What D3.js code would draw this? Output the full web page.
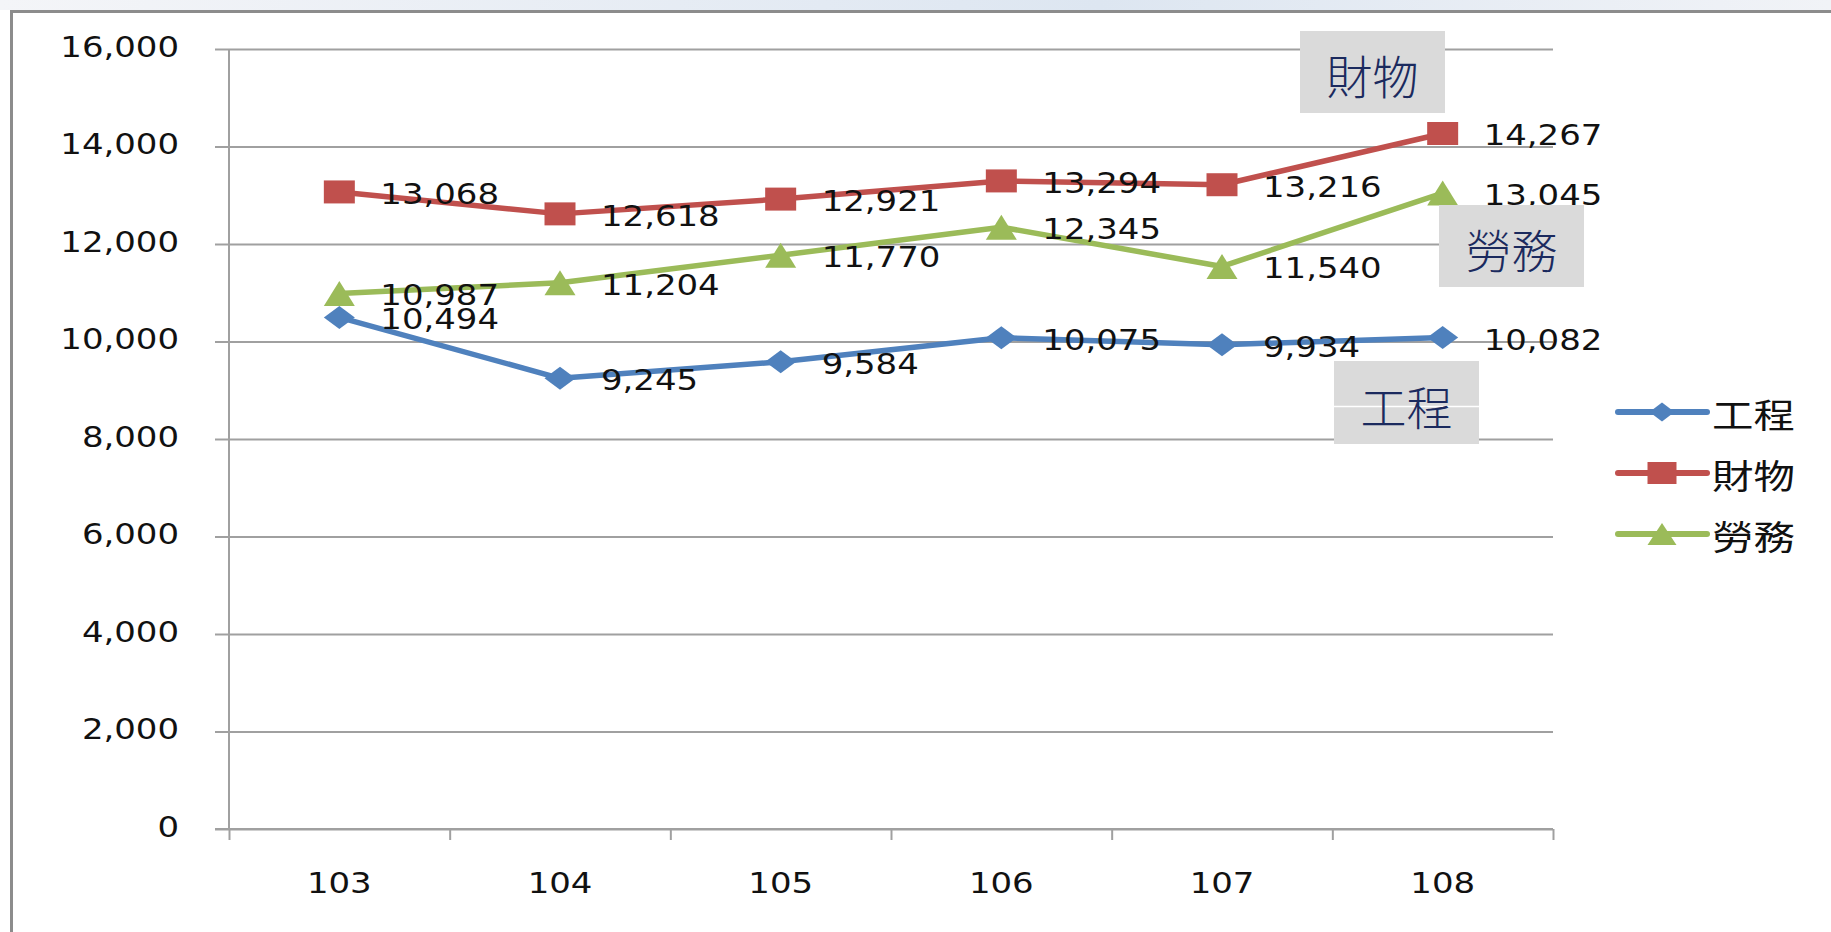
<!DOCTYPE html>
<html>
<head>
<meta charset="utf-8">
<script src="https://cdn.jsdelivr.net/npm/d3@7"></script>
<style>
  html, body { margin: 0; padding: 0; background: #fff; }
  svg { display: block; }
  .num { font-family: "DejaVu Sans", Verdana, sans-serif; font-size: 29px; fill: #111; }
  .cjk { font-family: "Noto Sans CJK TC", "Noto Sans CJK SC", sans-serif; }
</style>
</head>
<body>
<div id="chart"></div>
<script>
// data
var years = ["103", "104", "105", "106", "107", "108"];
var seriesNames = ["工程", "財物", "勞務"];
var gongcheng = [10494, 9245, 9584, 10075, 9934, 10082];
var caiwu = [13068, 12618, 12921, 13294, 13216, 14267];
var laowu = [10987, 11204, 11770, 12345, 11540, 13045];
var yTicks = [0, 2000, 4000, 6000, 8000, 10000, 12000, 14000, 16000];

var colors = ["#4F81BD", "#C0504D", "#9BBB59"];
var shapes = ["diamond", "square", "triangle"];

// set the dimensions and margins of the graph
var W = 1831, H = 932;
var margin = { top: 49, left: 229 },
    width = 1324,
    height = 780;

var svg = d3.select("#chart")
    .append("svg")
    .attr("width", W)
    .attr("height", H);

// slide background strip on top + frame
var grad = svg.append("defs").append("linearGradient").attr("id", "topg");
grad.append("stop").attr("offset", "0%").attr("stop-color", "#f4f5f8");
grad.append("stop").attr("offset", "45%").attr("stop-color", "#e3eaf3");
grad.append("stop").attr("offset", "60%").attr("stop-color", "#dde6f1");
grad.append("stop").attr("offset", "100%").attr("stop-color", "#f1f3f7");
svg.append("rect").attr("x", 0).attr("y", 0).attr("width", W).attr("height", 10).attr("fill", "url(#topg)");
svg.append("path")
    .attr("d", "M11.5," + H + " V11.5 H" + W)
    .attr("fill", "none")
    .attr("stroke", "#8c8c8c")
    .attr("stroke-width", 3);

var g = svg.append("g")
    .attr("transform", "translate(" + margin.left + "," + margin.top + ")");

// scales
var x = d3.scaleBand().domain(years).range([0, width]);
var xEdge = d3.scaleLinear().domain([0, years.length]).range([0, width]);
var y = d3.scaleLinear().domain([0, 16000]).range([height, 0]);

// grid lines
g.append("g")
    .call(d3.axisLeft(y).tickValues(yTicks).tickSize(-width).tickFormat(""))
    .call(function (s) { s.select(".domain").remove(); })
    .selectAll("line").attr("stroke", "#a0a0a0").attr("stroke-width", 2);

// Y axis
var yAxis = g.append("g")
    .call(d3.axisLeft(y).tickValues(yTicks).tickSize(14).tickFormat(d3.format(",")));
yAxis.select(".domain").attr("stroke", "#a0a0a0").attr("stroke-width", 2).attr("d", "M0," + height + "V0");
yAxis.selectAll("line").attr("stroke", "#a0a0a0").attr("stroke-width", 2);
yAxis.selectAll("text")
    .attr("class", "num")
    .attr("x", 0)
    .attr("dy", "0.32em")
    .attr("text-anchor", "end")
    .attr("transform", "translate(-50,-2) scale(1.17,1)");

// X axis ticks at category edges
var xTickAxis = g.append("g")
    .attr("transform", "translate(0," + height + ")")
    .call(d3.axisBottom(xEdge).tickValues(d3.range(years.length + 1)).tickSize(11).tickFormat(""));
xTickAxis.select(".domain").attr("stroke", "#a0a0a0").attr("stroke-width", 2).attr("d", "M-14,0H" + width);
xTickAxis.selectAll("line").attr("stroke", "#a0a0a0").attr("stroke-width", 2);

// X labels
var xLab = g.append("g")
    .attr("transform", "translate(0," + height + ")")
    .call(d3.axisBottom(x).tickSize(0));
xLab.select(".domain").remove();
xLab.selectAll("text")
    .attr("class", "num")
    .attr("y", 0)
    .attr("dy", 0)
    .attr("text-anchor", "middle")
    .attr("transform", "translate(0,63.5) scale(1.17,1)");

// series
var allSeries = [gongcheng, caiwu, laowu].map(function (vals, i) {
    return {
        name: seriesNames[i],
        color: colors[i],
        shape: shapes[i],
        values: vals.map(function (v, j) { return { year: years[j], value: v }; })
    };
});

function markerPath(shape, w, h) {
    var a = w / 2, b = h / 2;
    if (shape === "diamond") return "M0," + (-b) + "L" + a + ",0L0," + b + "L" + (-a) + ",0Z";
    if (shape === "square") return "M" + (-a) + "," + (-b) + "H" + a + "V" + b + "H" + (-a) + "Z";
    return "M0," + (-b) + "L" + a + "," + b + "H" + (-a) + "Z";
}

var line = d3.line()
    .x(function (d) { return x(d.year) + x.bandwidth() / 2; })
    .y(function (d) { return y(d.value); });

allSeries.forEach(function (s) {
    g.append("path")
        .datum(s.values)
        .attr("d", line)
        .attr("fill", "none")
        .attr("stroke", s.color)
        .attr("stroke-width", 5.5)
        .attr("stroke-linejoin", "round");
});

allSeries.forEach(function (s) {
    g.append("g").selectAll("path")
        .data(s.values)
        .enter().append("path")
        .attr("d", markerPath(s.shape, 31, s.shape === "triangle" ? 25 : 23))
        .attr("fill", s.color)
        .attr("transform", function (d) {
            return "translate(" + (x(d.year) + x.bandwidth() / 2) + "," + y(d.value) + ")";
        });
});

// data labels
allSeries.forEach(function (s) {
    g.append("g").selectAll("text")
        .data(s.values)
        .enter().append("text")
        .attr("class", "num")
        .attr("transform", function (d) {
            return "translate(" + (x(d.year) + x.bandwidth() / 2 + 41) + "," + (y(d.value) + 12) + ") scale(1.17,1)";
        })
        .text(function (d) { return d3.format(",")(d.value); });
});

// annotation boxes
var notes = [
    { text: seriesNames[1], x: 1300, y: 31, w: 145, h: 82 },
    { text: seriesNames[2], x: 1439, y: 205, w: 145, h: 82 },
    { text: seriesNames[0], x: 1334, y: 361, w: 145, h: 83 }
];
notes.forEach(function (n, i) {
    svg.append("rect")
        .attr("x", n.x).attr("y", n.y)
        .attr("width", n.w).attr("height", n.h)
        .attr("fill", "#dadada");
    if (i === 2) {
        svg.append("line")
            .attr("x1", n.x).attr("x2", n.x + n.w)
            .attr("y1", 406.5).attr("y2", 406.5)
            .attr("stroke", "#fff").attr("stroke-width", 1.5);
    }
    svg.append("text")
        .attr("class", "cjk")
        .attr("x", n.x + n.w / 2)
        .attr("y", n.y + n.h / 2 + 2)
        .attr("text-anchor", "middle")
        .attr("dominant-baseline", "central")
        .style("font-size", "46px")
        .style("font-weight", 300)
        .style("fill", "#1b2a5e")
        .text(n.text);
});

// legend
var legend = svg.append("g");
allSeries.forEach(function (s, i) {
    var ly = 412 + i * 61;
    legend.append("line")
        .attr("x1", 1618).attr("x2", 1707)
        .attr("y1", ly).attr("y2", ly)
        .attr("stroke", s.color)
        .attr("stroke-width", 6)
        .attr("stroke-linecap", "round");
    legend.append("path")
        .attr("d", markerPath(s.shape, s.shape === "diamond" ? 25 : 29, s.shape === "diamond" ? 19 : 22))
        .attr("fill", s.color)
        .attr("transform", "translate(1662," + ly + ")");
    legend.append("text")
        .attr("class", "cjk")
        .attr("dominant-baseline", "central")
        .attr("transform", "translate(1712," + (ly + 1) + ") scale(1.22,1)")
        .style("font-size", "34px")
        .style("fill", "#111")
        .text(s.name);
});
</script>
</body>
</html>
